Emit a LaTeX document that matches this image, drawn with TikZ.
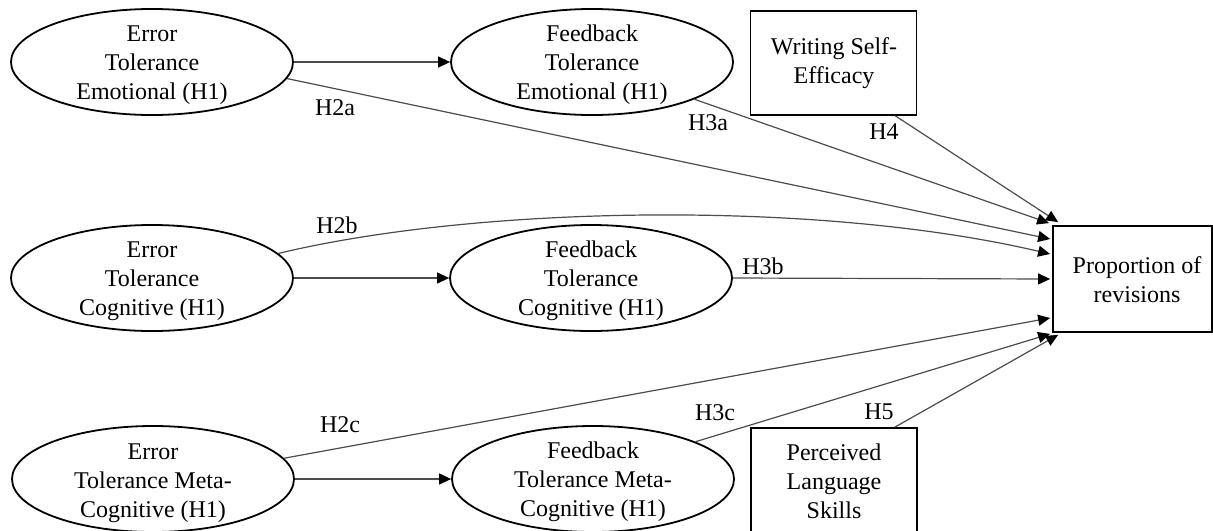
\documentclass[tikz,border=0pt]{standalone}
\usepackage{fontspec}
\setmainfont{Liberation Serif}
\usetikzlibrary{shapes.geometric,arrows.meta,calc}
\begin{document}
\begin{tikzpicture}[x=0.5pt,y=-0.5pt,
  font=\fontsize{12}{14.5}\selectfont,
  lat/.style={ellipse,draw,line width=0.9pt,minimum width=141pt,minimum height=53pt,inner sep=0pt},
  obs/.style={rectangle,draw,line width=0.9pt,inner sep=0pt},
  txt/.style={align=center,inner sep=0pt},
  conn/.style={line width=0.6pt,draw=black!70,-{Triangle[length=6pt,width=5.5pt,fill=black,color=black]}},
  hyp/.style={inner sep=0pt}]
\path[use as bounding box, clip] (0,0) rectangle (1213,530);

% latent variables
\node[lat] (e1) at (152,62) {};
\node[txt] (e1t) at (152,65) {Error\\Tolerance\\Emotional (H1)};
\node[lat] (f1) at (592,62) {};
\node[txt] (f1t) at (592,65) {Feedback\\Tolerance\\Emotional (H1)};
\node[lat] (e2) at (152,278) {};
\node[txt] (e2t) at (152,281) {Error\\Tolerance\\Cognitive (H1)};
\node[lat] (f2) at (591,278) {};
\node[txt] (f2t) at (591,281) {Feedback\\Tolerance\\Cognitive (H1)};
\node[lat] (e3) at (153,479) {};
\node[txt] (e3t) at (153,483) {Error\\Tolerance Meta-\\Cognitive (H1)};
\node[lat] (f3) at (593,479) {};
\node[txt] (f3t) at (593,482) {Feedback\\Tolerance Meta-\\Cognitive (H1)};

% observed variables
\node[obs,minimum width=83pt,minimum height=52pt] (wse) at (833.5,63) {};
\node[txt] (wset) at (834,63) {Writing Self-\\Efficacy};
\node[obs,minimum width=83pt,minimum height=60pt] (pls) at (834,488) {};
\node[txt] (plst) at (834,481) {Perceived\\Language\\Skills};
\node[obs,minimum width=79.5pt,minimum height=53pt] (prop) at (1132.5,279) {};
\node[txt] (propt) at (1137,280) {Proportion of\\revisions};

% E -> F
\draw[conn] (e1.east) -- (f1.west);
\draw[conn] (e2.east) -- (f2.west);
\draw[conn] (e3.east) -- (f3.west);

% paths to outcome
\draw[conn] (e1.-7) -- ($(prop.west)+(-2,-40)$);
\draw[conn] (f1.-20) -- ($(prop.north west)+(-3,-2)$);
\draw[conn] ($(wse.south east)+(-22,0)$) -- ($(prop.north west)+(6,-3)$);
\draw[conn] (e2.11) .. controls (480,205) and (820,200) .. ($(prop.west)+(-2,-25)$);
\draw[conn] (f2.east) -- ($(prop.west)+(-2,0)$);
\draw[conn] (e3.9) -- ($(prop.west)+(-2,39)$);
\draw[conn] (f3.20) -- ($(prop.south west)+(-2,1)$);
\draw[conn] ($(pls.north east)+(-23,0)$) -- ($(prop.south west)+(6,2)$);

% labels
\node[hyp] (lh2a) at (335,108) {H2a};
\node[hyp] (lh3a) at (708,123) {H3a};
\node[hyp] (lh4) at (884,132) {H4};
\node[hyp] (lh2b) at (337,225) {H2b};
\node[hyp] (lh3b) at (763,266) {H3b};
\node[hyp] (lh2c) at (340,425) {H2c};
\node[hyp] (lh3c) at (715,413) {H3c};
\node[hyp] (lh5) at (879,412) {H5};
\end{tikzpicture}
\end{document}
